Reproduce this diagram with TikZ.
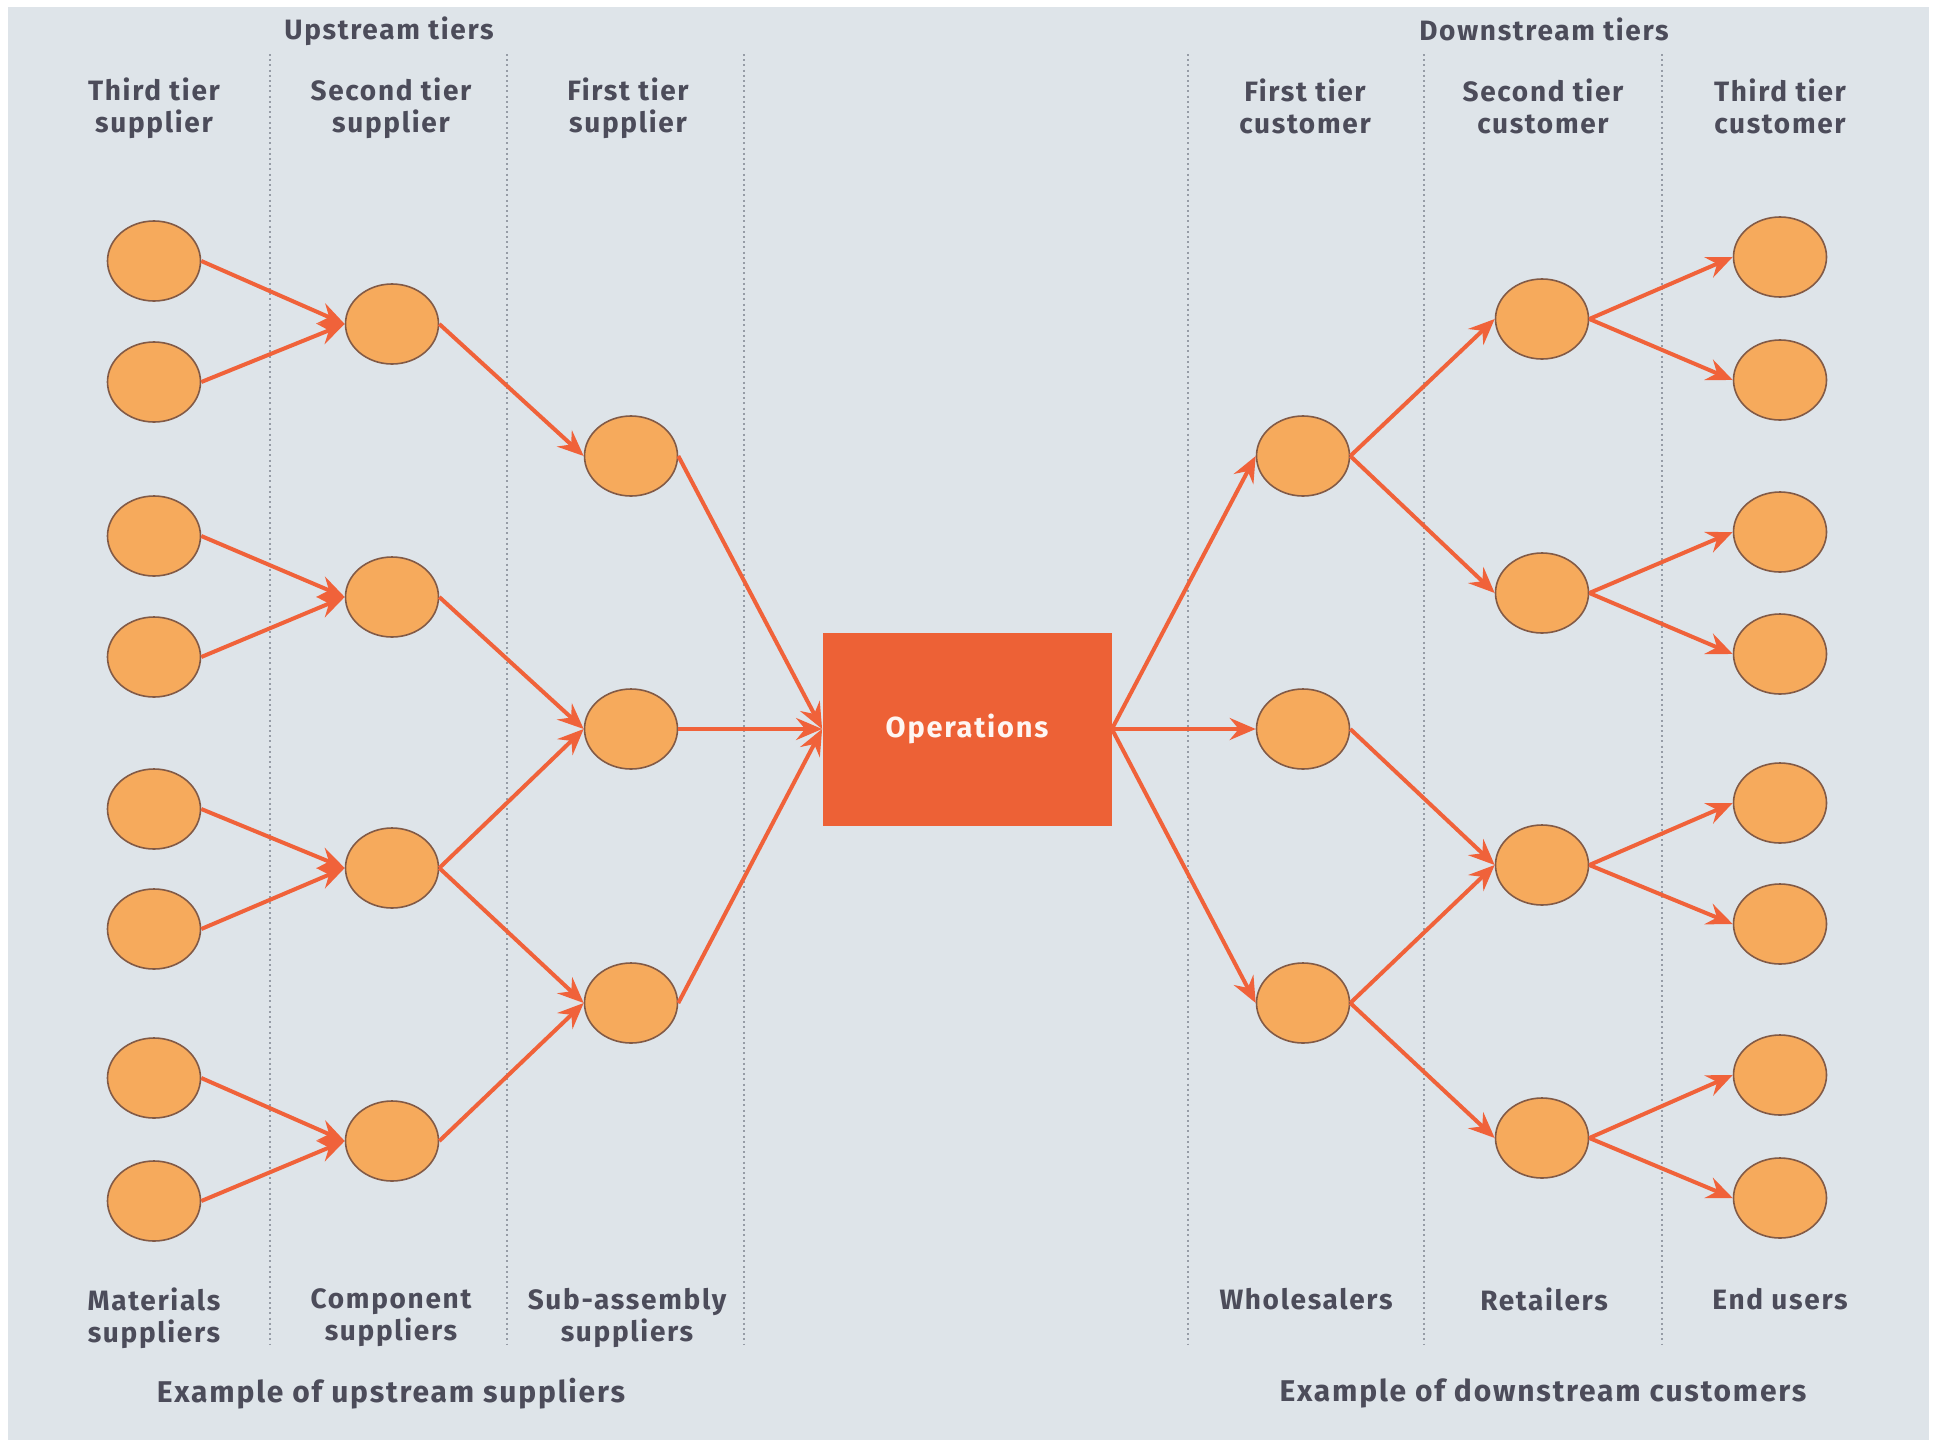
\documentclass[tikz,border=0pt]{standalone}
\usepackage{fontspec}
\setmainfont{Fira Sans}[LetterSpace=6]
\usetikzlibrary{arrows.meta,shapes.geometric}

\definecolor{paper}{RGB}{222,228,233}
\definecolor{ink}{RGB}{76,76,90}
\definecolor{discfill}{RGB}{246,170,92}
\definecolor{discedge}{RGB}{130,90,70}
\definecolor{flow}{RGB}{240,98,58}
\definecolor{opsred}{RGB}{237,97,54}
\definecolor{divider}{RGB}{150,156,166}

\begin{document}
\begin{tikzpicture}[x=0.5pt,y=-0.5pt,
  disc/.style={ellipse, draw=discedge, line width=0.8pt, fill=discfill,
    minimum width=46.5pt, minimum height=40pt, inner sep=0pt},
  flowarrow/.style={draw=flow, line width=2pt,
    -{Stealth[length=13pt,width=11pt,inset=4.5pt]}},
  tierlabel/.style={text=ink, font=\bfseries\fontsize{14}{16}\selectfont, align=center},
  examplelabel/.style={tierlabel, font=\bfseries\fontsize{15}{17}\selectfont},
  divline/.style={draw=divider, line width=1pt, dash pattern=on 1pt off 1.6pt},
  opsbox/.style={rectangle, fill=opsred, minimum width=144.5pt, minimum height=96.5pt,
    text=white!94!opsred, font=\bfseries\fontsize{14.5}{16}\selectfont}]

% page and paper
\useasboundingbox (0,0) rectangle (1937,1440);
\fill[white] (0,0) rectangle (1937,1440);
\fill[paper] (8,7) rectangle (1929,1440);

% column dividers
\foreach \x in {270,507,744,1188,1424,1662}
  \draw[divline] (\x,54) -- (\x,1345);

% headings
\node[tierlabel] (upT) at (389,31) {Upstream tiers};
\node[tierlabel] (dnT) at (1544,29) {Downstream tiers};

\node[tierlabel] (h1) at (154,108) {Third tier\\supplier};
\node[tierlabel] (h2) at (391,108) {Second tier\\supplier};
\node[tierlabel] (h3) at (628,108) {First tier\\supplier};
\node[tierlabel] (h4) at (1305,106) {First tier\\customer};
\node[tierlabel] (h5) at (1543,106) {Second tier\\customer};
\node[tierlabel] (h6) at (1780,106) {Third tier\\customer};

% bottom labels
\node[tierlabel] (l1) at (154,1318) {Materials\\suppliers};
\node[tierlabel] (l2) at (391,1318) {Component\\suppliers};
\node[tierlabel] (l3) at (627,1318) {Sub-assembly\\suppliers};
\node[tierlabel] (l4) at (1306,1299) {Wholesalers};
\node[tierlabel] (l5) at (1544,1299) {Retailers};
\node[tierlabel] (l6) at (1780,1299) {End users};

\node[examplelabel] (exU) at (391,1394) {Example of upstream suppliers};
\node[examplelabel] (exD) at (1543,1393) {Example of downstream customers};

% third tier suppliers
\node[disc] (a1) at (154,261) {};
\node[disc] (a2) at (154,382) {};
\node[disc] (a3) at (154,536) {};
\node[disc] (a4) at (154,657) {};
\node[disc] (a5) at (154,809) {};
\node[disc] (a6) at (154,929) {};
\node[disc] (a7) at (154,1078) {};
\node[disc] (a8) at (154,1201) {};

% second tier suppliers
\node[disc] (b1) at (392,324) {};
\node[disc] (b2) at (392,597) {};
\node[disc] (b3) at (392,868) {};
\node[disc] (b4) at (392,1141) {};

% first tier suppliers
\node[disc] (c1) at (631,456) {};
\node[disc] (c2) at (631,729) {};
\node[disc] (c3) at (631,1003) {};

% focal operation
\node[opsbox] (ops) at (967,729) {Operations};

% first tier customers
\node[disc] (d1) at (1303,456) {};
\node[disc] (d2) at (1303,729) {};
\node[disc] (d3) at (1303,1003) {};

% second tier customers
\node[disc] (e1) at (1542,319) {};
\node[disc] (e2) at (1542,593) {};
\node[disc] (e3) at (1542,865) {};
\node[disc] (e4) at (1542,1138) {};

% third tier customers
\node[disc] (f1) at (1780,257) {};
\node[disc] (f2) at (1780,380) {};
\node[disc] (f3) at (1780,532) {};
\node[disc] (f4) at (1780,654) {};
\node[disc] (f5) at (1780,803) {};
\node[disc] (f6) at (1780,924) {};
\node[disc] (f7) at (1780,1075) {};
\node[disc] (f8) at (1780,1198) {};

% upstream flows
\draw[flowarrow] (a1.east) -- (b1.west);
\draw[flowarrow] (a2.east) -- (b1.west);
\draw[flowarrow] (a3.east) -- (b2.west);
\draw[flowarrow] (a4.east) -- (b2.west);
\draw[flowarrow] (a5.east) -- (b3.west);
\draw[flowarrow] (a6.east) -- (b3.west);
\draw[flowarrow] (a7.east) -- (b4.west);
\draw[flowarrow] (a8.east) -- (b4.west);

\draw[flowarrow] (b1.east) -- (c1.west);
\draw[flowarrow] (b2.east) -- (c2.west);
\draw[flowarrow] (b3.east) -- (c2.west);
\draw[flowarrow] (b3.east) -- (c3.west);
\draw[flowarrow] (b4.east) -- (c3.west);

\draw[flowarrow] (c1.east) -- (ops.west);
\draw[flowarrow] (c2.east) -- (ops.west);
\draw[flowarrow] (c3.east) -- (ops.west);

% downstream flows
\draw[flowarrow] (ops.east) -- (d1.west);
\draw[flowarrow] (ops.east) -- (d2.west);
\draw[flowarrow] (ops.east) -- (d3.west);

\draw[flowarrow] (d1.east) -- (e1.west);
\draw[flowarrow] (d1.east) -- (e2.west);
\draw[flowarrow] (d2.east) -- (e3.west);
\draw[flowarrow] (d3.east) -- (e3.west);
\draw[flowarrow] (d3.east) -- (e4.west);

\draw[flowarrow] (e1.east) -- (f1.west);
\draw[flowarrow] (e1.east) -- (f2.west);
\draw[flowarrow] (e2.east) -- (f3.west);
\draw[flowarrow] (e2.east) -- (f4.west);
\draw[flowarrow] (e3.east) -- (f5.west);
\draw[flowarrow] (e3.east) -- (f6.west);
\draw[flowarrow] (e4.east) -- (f7.west);
\draw[flowarrow] (e4.east) -- (f8.west);
\end{tikzpicture}
\end{document}
